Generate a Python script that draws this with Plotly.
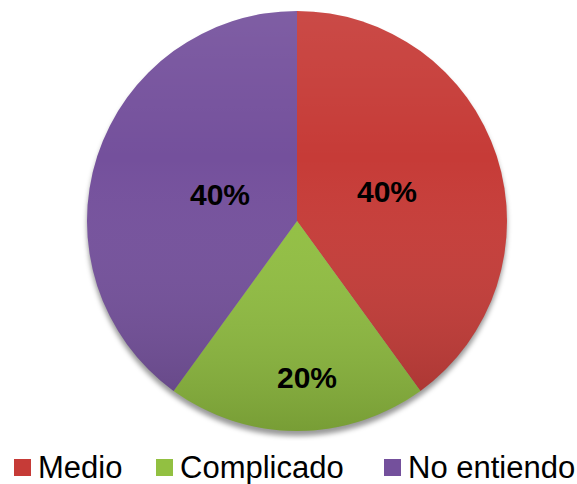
import base64
import math
import plotly.graph_objects as go

# Survey answers and their shares
categories = ["Medio", "Complicado", "No entiendo"]
shares = [40, 20, 40]
colors = ["#C63B37", "#92C041", "#74509C"]

# Label placement inside each slice: radial fraction and small angular nudge (deg)
label_radius = [0.45, 0.745, 0.39]
label_nudge = [0, -3.7, 1]

W, H = 577, 484
cx, cy, r = 297, 221, 210


def px(x):
    return x / W


def py(y):
    return 1 - y / H


def svg_uri(svg):
    return "data:image/svg+xml;base64," + base64.b64encode(svg.encode()).decode()


fig = go.Figure()

fig.add_trace(go.Pie(
    labels=categories,
    values=shares,
    sort=False,
    direction="clockwise",
    rotation=0,
    marker=dict(colors=colors, line=dict(width=0)),
    textinfo="none",
    domain=dict(x=[px(cx - r), px(cx + r)], y=[py(cy + r), py(cy - r)]),
    showlegend=False,
    hoverinfo="skip",
))

# Percent labels, positioned from the slice angles
total = sum(shares)
start = 0.0
annotations = []
for cat, v, frac, nudge in zip(categories, shares, label_radius, label_nudge):
    mid = start + v / total * 360 / 2 + nudge
    start += v / total * 360
    lx = cx + frac * r * math.sin(math.radians(mid))
    ly = cy - frac * r * math.cos(math.radians(mid))
    annotations.append(dict(
        x=px(lx), y=py(ly), xref="paper", yref="paper",
        text=f"<b>{round(v / total * 100)}%</b>", showarrow=False,
        font=dict(family="Liberation Sans, Arial", size=30, color="black"),
        xanchor="center", yanchor="middle",
    ))

# Legend row: swatch + label
legend_x = [14, 156, 384]
sw = 17
for cat, col, x0 in zip(categories, colors, legend_x):
    fig.add_shape(
        type="rect", xref="paper", yref="paper",
        x0=px(x0), x1=px(x0 + sw), y0=py(476), y1=py(459),
        fillcolor=col, line=dict(width=0),
    )
    annotations.append(dict(
        x=px(x0 + sw + 5), y=py(467), xref="paper", yref="paper",
        text=cat, showarrow=False,
        font=dict(family="Liberation Sans, Arial", size=31, color="black"),
        xanchor="left", yanchor="middle",
    ))

# Vertical shading over the pie
shade = (
    "<svg xmlns='http://www.w3.org/2000/svg' width='420' height='420' viewBox='0 0 420 420'>"
    "<defs><linearGradient id='g' x1='0' y1='0' x2='0' y2='1'>"
    "<stop offset='0' stop-color='#fff' stop-opacity='0.08'/>"
    "<stop offset='0.35' stop-color='#fff' stop-opacity='0'/>"
    "<stop offset='1' stop-color='#000' stop-opacity='0.18'/>"
    "</linearGradient></defs>"
    "<circle cx='210' cy='210' r='210' fill='url(#g)'/></svg>"
)
# Soft drop shadow beneath the pie
shadow = (
    "<svg xmlns='http://www.w3.org/2000/svg' width='440' height='440' viewBox='0 0 440 440'>"
    "<defs><filter id='b' x='-10%' y='-10%' width='120%' height='120%'>"
    "<feGaussianBlur stdDeviation='2.5'/></filter></defs>"
    "<circle cx='220' cy='225' r='210' fill='#000' fill-opacity='0.4' filter='url(#b)'/></svg>"
)

fig.update_layout(
    width=W, height=H,
    margin=dict(l=0, r=0, t=0, b=0),
    paper_bgcolor="white",
    plot_bgcolor="white",
    showlegend=False,
    annotations=annotations,
    images=[
        dict(source=svg_uri(shadow), xref="paper", yref="paper",
             x=px(cx - r - 10), y=py(cy - r - 10), sizex=440 / W, sizey=440 / H,
             xanchor="left", yanchor="top", sizing="stretch", layer="below"),
        dict(source=svg_uri(shade), xref="paper", yref="paper",
             x=px(cx - r), y=py(cy - r), sizex=2 * r / W, sizey=2 * r / H,
             xanchor="left", yanchor="top", sizing="stretch", layer="above"),
    ],
)

fig.write_html("out.html")
